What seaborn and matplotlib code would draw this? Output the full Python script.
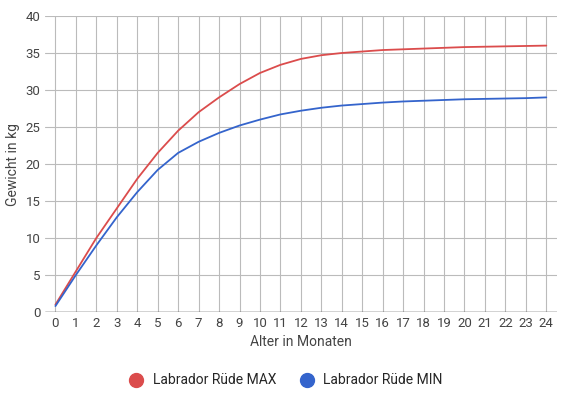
import matplotlib
matplotlib.use("Agg")
import matplotlib.pyplot as plt
from matplotlib.lines import Line2D
import pandas as pd
import seaborn as sns

months = list(range(25))
max_kg = [1, 5.5, 10, 14, 18, 21.5, 24.5, 27, 29, 30.8, 32.3, 33.4, 34.2, 34.7, 35,
          35.2, 35.4, 35.5, 35.6, 35.7, 35.8, 35.85, 35.9, 35.95, 36]
min_kg = [0.8, 5, 9, 12.8, 16.2, 19.2, 21.5, 23, 24.2, 25.2, 26, 26.7, 27.2, 27.6, 27.9,
          28.1, 28.3, 28.45, 28.55, 28.65, 28.75, 28.8, 28.85, 28.9, 29]
series = ["Labrador Rüde MAX", "Labrador Rüde MIN"]
colors = ["#db4c4c", "#3464cc"]

df = pd.DataFrame({
    "Monat": months * 2,
    "kg": max_kg + min_kg,
    "Serie": [series[0]] * 25 + [series[1]] * 25,
})

sns.set_style("white")
plt.rcParams["font.family"] = ["Roboto", "DejaVu Sans"]

fig = plt.figure(figsize=(5.65, 4.0), dpi=100)
ax = fig.add_axes([0.08, 0.22, 0.905, 0.74])
sns.lineplot(data=df, x="Monat", y="kg", hue="Serie", palette=colors,
             linewidth=1.3, ax=ax, legend=False)

ax.set_xlim(-0.5, 24.5)
ax.set_ylim(0, 40)
ax.set_xticks(months)
ax.set_yticks(range(0, 41, 5))
ax.grid(True, color="#bbbbbb", linewidth=0.8)
for s in ax.spines.values():
    s.set_visible(False)
ax.axhline(0, color="#333333", linewidth=1)
ax.tick_params(length=0, labelsize=9.5, colors="#444444")
ax.set_xlabel("Alter in Monaten", fontsize=10, color="#444444")
ax.set_ylabel("Gewicht in kg", fontsize=10, color="#444444")

handles = [Line2D([], [], marker="o", linestyle="", markersize=10, color=c) for c in colors]
fig.legend(handles, series, loc="lower center", ncol=2, frameon=False,
           bbox_to_anchor=(0.5, 0.0), fontsize=10, handletextpad=0.2, columnspacing=1.2)

plt.savefig("out.png", dpi=100)
plt.close()
